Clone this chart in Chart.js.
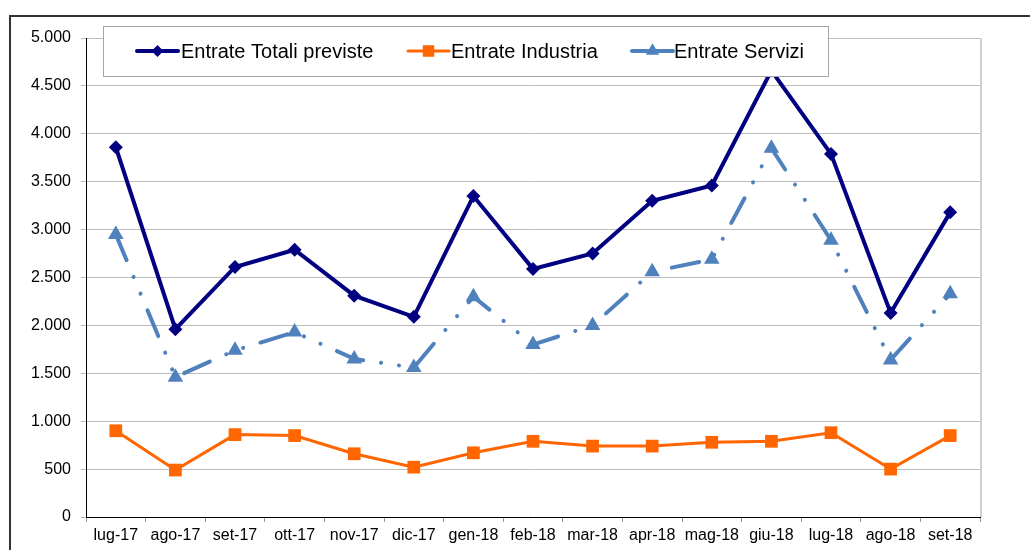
<!DOCTYPE html>
<html>
<head>
<meta charset="utf-8">
<script src="https://cdn.jsdelivr.net/npm/chart.js@4/dist/chart.umd.min.js"></script>
<style>
  html, body { margin: 0; padding: 0; background: #fff; }
  #wrap { position: relative; width: 1030px; height: 550px; }
</style>
</head>
<body>
<div id="wrap"><canvas id="c" width="1030" height="550"></canvas></div>
<script>
const categories = ["lug-17","ago-17","set-17","ott-17","nov-17","dic-17","gen-18","feb-18","mar-18","apr-18","mag-18","giu-18","lug-18","ago-18","set-18"];
const entrateTotali = [3860, 1960, 2610, 2790, 2310, 2090, 3350, 2590, 2750, 3300, 3460, 4660, 3790, 2130, 3180];
const entrateIndustria = [900, 490, 860, 850, 660, 520, 670, 790, 740, 740, 780, 790, 880, 500, 850];
const entrateServizi = [2950, 1460, 1740, 1930, 1650, 1560, 2300, 1800, 2000, 2560, 2690, 3850, 2890, 1640, 2330];
const yTicks = [0, 500, 1000, 1500, 2000, 2500, 3000, 3500, 4000, 4500, 5000];
const seriesNames = ["Entrate Totali previste", "Entrate Industria", "Entrate Servizi"];

const FONT = "'Liberation Sans', Arial, sans-serif";

const frame = {
  id: 'frame',
  beforeDraw(chart) {
    const ctx = chart.ctx;
    ctx.save();
    ctx.strokeStyle = '#333';
    ctx.lineWidth = 2;
    ctx.beginPath();
    ctx.moveTo(10, 550);
    ctx.lineTo(10, 16);
    ctx.lineTo(1030, 16);
    ctx.stroke();
    ctx.restore();
  },
  afterDatasetsDraw(chart) {
    const ctx = chart.ctx;
    const a = chart.chartArea;
    ctx.save();
    ctx.strokeStyle = '#d0d0d0';
    ctx.lineWidth = 2;
    ctx.beginPath();
    ctx.moveTo(a.right + 1, a.top);
    ctx.lineTo(a.right + 1, a.bottom);
    ctx.stroke();
    ctx.restore();
  }
};

const legendBox = {
  id: 'legendBox',
  afterDraw(chart) {
    const ctx = chart.ctx;
    ctx.save();
    ctx.fillStyle = '#fff';
    ctx.fillRect(103, 26, 725, 50);
    ctx.strokeStyle = '#a6a6a6';
    ctx.lineWidth = 1;
    ctx.strokeRect(103.5, 26.5, 725, 50);
    const items = [
      { x: 137, tx: 181 },
      { x: 408, tx: 451 },
      { x: 632, tx: 674 }
    ];
    const cy = 51;
    chart.data.datasets.forEach((ds, i) => {
      const it = items[i];
      ctx.strokeStyle = ds.borderColor;
      ctx.lineWidth = ds.borderWidth;
      ctx.setLineDash([]);
      ctx.lineCap = 'round';
      ctx.beginPath();
      ctx.moveTo(it.x, cy);
      ctx.lineTo(it.x + 41, cy);
      ctx.stroke();
      ctx.fillStyle = ds.borderColor;
      ctx.beginPath();
      const r = ds.pointRadius * 0.85;
      const mx = it.x + 20.5;
      if (ds.pointStyle === 'rectRot') {
        ctx.moveTo(mx, cy - r); ctx.lineTo(mx + r, cy);
        ctx.lineTo(mx, cy + r); ctx.lineTo(mx - r, cy);
      } else if (ds.pointStyle === 'rect') {
        const s = r * 0.75;
        ctx.rect(mx - s, cy - s, 2 * s, 2 * s);
      } else {
        ctx.moveTo(mx, cy - r); ctx.lineTo(mx + r * 0.87, cy + r / 2);
        ctx.lineTo(mx - r * 0.87, cy + r / 2);
      }
      ctx.closePath();
      ctx.fill();
      ctx.fillStyle = '#000';
      ctx.font = "20px " + FONT;
      ctx.textBaseline = 'middle';
      ctx.textAlign = 'left';
      ctx.fillText(ds.label, it.tx, cy + 1);
    });
    ctx.restore();
  }
};

new Chart(document.getElementById('c'), {
  type: 'line',
  data: {
    labels: categories,
    datasets: [
      {
        label: seriesNames[0],
        data: entrateTotali,
        borderColor: '#000080',
        backgroundColor: '#000080',
        borderWidth: 4,
        pointStyle: 'rectRot',
        pointRadius: 7,
        pointBorderWidth: 0,
        tension: 0
      },
      {
        label: seriesNames[1],
        data: entrateIndustria,
        borderColor: '#ff6600',
        backgroundColor: '#ff6600',
        borderWidth: 3,
        pointStyle: 'rect',
        pointRadius: 9,
        pointBorderWidth: 0,
        tension: 0
      },
      {
        label: seriesNames[2],
        data: entrateServizi,
        borderColor: '#4f81bd',
        backgroundColor: '#4f81bd',
        borderWidth: 4,
        borderDash: [28, 18, 0.1, 18, 0.1, 18],
        borderCapStyle: 'round',
        pointStyle: 'triangle',
        pointRadius: 9,
        pointBorderWidth: 0,
        tension: 0
      }
    ]
  },
  options: {
    responsive: false,
    animation: false,
    devicePixelRatio: 1,
    layout: { padding: { left: 10, top: 38, right: 50, bottom: 0 } },
    plugins: { legend: { display: false }, tooltip: { enabled: false } },
    scales: {
      x: {
        offset: true,
        grid: {
          offset: true,
          drawOnChartArea: false,
          drawTicks: true,
          tickLength: 5,
          color: '#999'
        },
        border: { display: true, color: '#000', width: 1 },
        ticks: {
          color: '#000',
          font: { family: FONT, size: 16 },
          padding: 4,
          maxRotation: 0,
          autoSkip: false
        },
        afterFit(scale) { scale.height = 33; }
      },
      y: {
        min: 0,
        max: 5000,
        afterBuildTicks(scale) { scale.ticks = yTicks.map(v => ({ value: v })); },
        grid: {
          color: '#bdbdbd',
          lineWidth: 1,
          tickLength: 5,
          drawTicks: true
        },
        border: { display: true, color: '#000', width: 1 },
        ticks: {
          color: '#000',
          font: { family: FONT, size: 16 },
          padding: 10,
          callback: v => v.toLocaleString('it-IT', { minimumFractionDigits: 0 }).replace(/,/g, '.')
        },
        afterFit(scale) { scale.width = 76; }
      }
    }
  },
  plugins: [frame, legendBox]
});
</script>
</body>
</html>
